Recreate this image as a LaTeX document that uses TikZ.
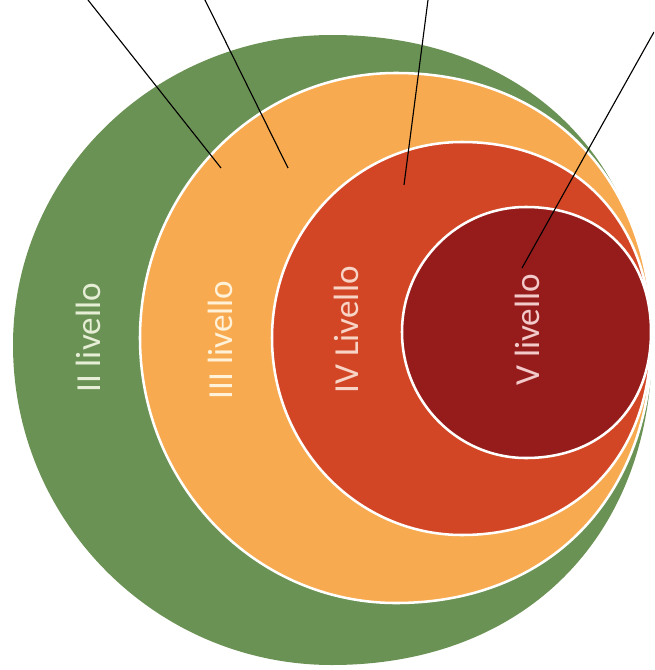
\documentclass[tikz,border=0pt]{standalone}
\usepackage{fontspec}
\setmainfont{Carlito}

\definecolor{greenII}{HTML}{6B9255}
\definecolor{orangeIII}{HTML}{F8AA50}
\definecolor{redIV}{HTML}{D24626}
\definecolor{redV}{HTML}{961C1C}
\definecolor{textII}{HTML}{E6EED6}
\definecolor{textIII}{HTML}{FFF2D8}
\definecolor{textIV}{HTML}{F8D4C6}
\definecolor{textV}{HTML}{F2CACA}

\tikzset{
 ring/.style={draw=white, line width=1.8pt},
 levellabel/.style={rotate=90, inner sep=0pt, font=\fontsize{25}{30}\selectfont},
 leader/.style={draw=black, line width=0.8pt}
}

% left, top, bottom, x of top, right, y of middle, squareness, options
\newcommand\levelshape[8]{
 \filldraw [#8] (#4,#2)
  .. controls ({#4-0.552*(#4-#1)},#2) and (#1,{#6-0.552*(#6-#2)}) .. (#1,#6)
  .. controls (#1,{#6+0.552*(#3-#6)}) and ({#4-0.552*(#4-#1)},#3) .. (#4,#3)
  .. controls ({#4+#7*(#5-#4)},#3) and (#5,{#6+#7*(#3-#6)}) .. (#5,#6)
  .. controls (#5,{#6-#7*(#6-#2)}) and ({#4+#7*(#5-#4)},#2) .. cycle;
}

\begin{document}
\begin{tikzpicture}[x=0.025cm, y=-0.025cm]
 \useasboundingbox (0,0) rectangle (654,670);
 \clip (0,0) rectangle (654,670);

 \levelshape{13}{35}{665}{332}{652}{345}{0.6}{draw=none, fill=greenII}
 \levelshape{140}{73}{603}{396}{652}{338}{0.6}{ring, fill=orangeIII}
 \levelshape{272}{142}{535}{462}{651}{338}{0.6}{ring, fill=redIV}
 \levelshape{402}{207}{458}{526}{651}{332}{0.6}{ring, fill=redV}

 \node [levellabel, text=textII] (l2) at (88,338) {II livello};
 \node [levellabel, text=textIII] (l3) at (220,340) {III livello};
 \node [levellabel, text=textIV] (l4) at (346,330) {IV Livello};
 \node [levellabel, text=textV] (l5) at (527,330) {V livello};

 \coordinate (t2) at (88,0);
 \coordinate (t3) at (205,0);
 \coordinate (t4) at (428,0);
 \coordinate (t5) at (654,32);
 \coordinate (p2) at (221,168);
 \coordinate (p3) at (288,168);
 \coordinate (p4) at (404,185);
 \coordinate (p5) at (522,268);

 \draw [leader] (t2) -- (p2);
 \draw [leader] (t3) -- (p3);
 \draw [leader] (t4) -- (p4);
 \draw [leader] (t5) -- (p5);
\end{tikzpicture}
\end{document}
